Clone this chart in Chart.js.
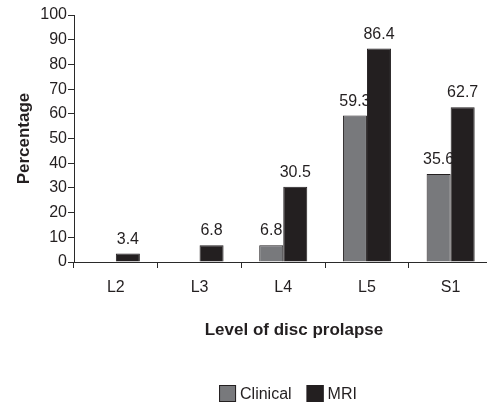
<!DOCTYPE html>
<html>
<head>
<meta charset="utf-8">
<script src="https://cdn.jsdelivr.net/npm/chart.js@4"></script>
<style>
  body { margin: 0; background: #fff; overflow: hidden; }
  #wrap { position: relative; width: 495px; height: 406px; }
</style>
</head>
<body>
<div id="wrap"><canvas id="discChart"></canvas></div>
<script>
// Level of disc prolapse, clinical vs MRI (percent)
const categories = ['L2', 'L3', 'L4', 'L5', 'S1'];
const clinicalValues = [0, 0, 6.8, 59.3, 35.6];
const mriValues = [3.4, 6.8, 30.5, 86.4, 62.7];
const yMin = 0;
const yMax = 100;
const yStep = 10;

const FONT = '"Liberation Sans", Arial, sans-serif';
const INK = '#231f20';

// value labels drawn before the bars so the MRI bar covers the clinical label, like the original
const valueLabels = {
    id: 'valueLabels',
    beforeDatasetsDraw(chart) {
        const ctx = chart.ctx;
        ctx.save();
        ctx.font = '16px ' + FONT;
        ctx.fillStyle = INK;
        ctx.textAlign = 'center';
        ctx.textBaseline = 'alphabetic';
        chart.data.datasets.forEach((ds, i) => {
            chart.getDatasetMeta(i).data.forEach((bar, j) => {
                if (!ds.data[j]) return;
                ctx.fillText(String(ds.data[j]), bar.x, bar.y - 10);
            });
        });
        ctx.restore();
    }
};

// x title and legend placed like the source figure
const extras = {
    id: 'extras',
    afterDraw(chart) {
        const ctx = chart.ctx;
        ctx.save();
        ctx.fillStyle = INK;
        ctx.font = 'bold 17px ' + FONT;
        ctx.textAlign = 'center';
        ctx.textBaseline = 'middle';
        ctx.fillText('Level of disc prolapse', 294, 330);

        ctx.font = '16px ' + FONT;
        const box = 17, gap = 4, spacing = 15;
        const items = chart.data.datasets.map(ds => ({
            text: ds.label, fill: ds.backgroundColor, w: box + gap + ctx.measureText(ds.label).width
        }));
        const total = items.reduce((a, it) => a + it.w, 0) + spacing * (items.length - 1);
        let x = 288 - total / 2;
        const y = 385;
        ctx.textAlign = 'left';
        items.forEach(it => {
            ctx.fillStyle = it.fill;
            ctx.fillRect(x, y, box, box);
            ctx.strokeStyle = INK;
            ctx.lineWidth = 1;
            ctx.strokeRect(x + 0.5, y + 0.5, box - 1, box - 1);
            ctx.fillStyle = INK;
            ctx.fillText(it.text, x + box + gap, y + box / 2 + 1);
            x += it.w + spacing;
        });
        ctx.restore();
    }
};

const ctx = document.getElementById('discChart').getContext('2d');
new Chart(ctx, {
    type: 'bar',
    data: {
        labels: categories,
        datasets: [
            {
                label: 'Clinical',
                data: clinicalValues,
                backgroundColor: '#78797c',
                borderColor: INK,
                borderWidth: 1,
                categoryPercentage: 0.574,
                barPercentage: 1
            },
            {
                label: 'MRI',
                data: mriValues,
                backgroundColor: INK,
                borderColor: INK,
                borderWidth: 1,
                categoryPercentage: 0.574,
                barPercentage: 1
            }
        ]
    },
    options: {
        responsive: true,
        maintainAspectRatio: false,
        animation: false,
        layout: { padding: { top: 15, right: 2.5, bottom: 0, left: 0 } },
        plugins: {
            legend: { display: false },
            tooltip: { enabled: false }
        },
        scales: {
            x: {
                grid: { drawOnChartArea: false, drawTicks: true, tickLength: 6, color: '#2a2a2a' },
                border: { color: '#2a2a2a', width: 1 },
                ticks: { color: INK, font: { family: FONT, size: 16 }, padding: 10 },
                afterFit(scale) { scale.height = 144; }
            },
            y: {
                min: yMin,
                max: yMax,
                grid: { drawOnChartArea: false, drawTicks: true, tickLength: 6, color: '#2a2a2a' },
                border: { color: '#2a2a2a', width: 1 },
                ticks: { stepSize: yStep, color: INK, font: { family: FONT, size: 16 }, padding: 1 },
                title: {
                    display: true,
                    text: 'Percentage',
                    color: INK,
                    font: { family: FONT, size: 17, weight: 'bold' },
                    padding: { top: 14, bottom: 0 }
                },
                afterFit(scale) { scale.width = 74; }
            }
        }
    },
    plugins: [valueLabels, extras]
});
</script>
</body>
</html>
